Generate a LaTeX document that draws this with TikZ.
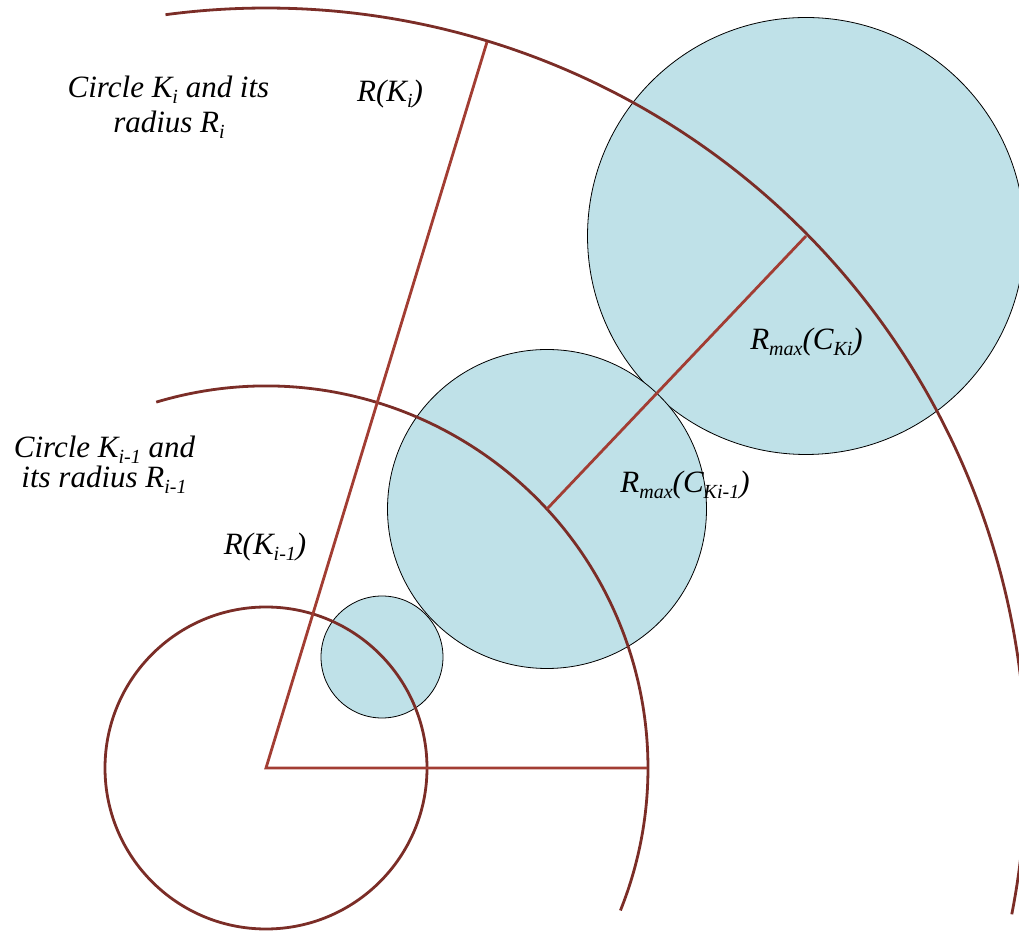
\documentclass[tikz,border=0pt]{standalone}
\usepackage{fontspec}
\setmainfont{Liberation Serif}
\usetikzlibrary{calc}
\definecolor{arcred}{HTML}{7B2D27}
\definecolor{linered}{HTML}{A23D33}
\definecolor{discblue}{HTML}{BFE1E8}
\newcommand\lsub[1]{\raisebox{-0.18em}{\fontsize{20}{20}\selectfont #1}}
\tikzset{
  disc/.style={circle, draw=black, line width=0.8pt, fill=discblue, inner sep=0pt, minimum size=#1},
  arcline/.style={draw=arcred, line width=2.8pt},
  radline/.style={draw=linered, line width=2.8pt},
  lbl/.style={font=\fontsize{31}{35}\selectfont\itshape, inner sep=0pt, anchor=base, align=center}
}
\begin{document}
\begin{tikzpicture}[x=1pt,y=1pt]
\useasboundingbox (0,0) rectangle (1019,931);
\coordinate (O) at (266,163);
% blue discs
\node[disc=437pt] (big) at (806,695) {};
\node[disc=319pt] (mid) at (547,422) {};
\node[disc=122pt] (small) at (382,274) {};
% arcs
\draw[arcline] (O) circle[radius=161];
\draw[arcline] (O) ++(106.7:382) arc[start angle=106.7, end angle=-21.9, radius=382];
\draw[arcline] (O) ++(97.6:760) arc[start angle=97.6, end angle=-11.1, radius=760];
% radii
\coordinate (T) at ($(O)+(73.07:759)$);
\coordinate (H) at (647,163);
\draw[radline, line join=miter] (T) -- (O) -- (H);
\draw[radline] (mid.center) -- (big.center);
% labels
\node[lbl] (l1) at (168.5,833) {Circle K\lsub{i} and its};
\node[lbl] (l2) at (169,798) {radius R\lsub{i}};
\node[lbl] (l3) at (390,829) {R(K\lsub{i})};
\node[lbl] (l4) at (104.5,473) {Circle K\lsub{i-1} and};
\node[lbl] (l5) at (104,443) {its radius R\lsub{i-1}};
\node[lbl] (l6) at (265,376) {R(K\lsub{i-1})};
\node[lbl] (l7) at (806.5,581) {R\lsub{max}(C\lsub{Ki})};
\node[lbl] (l8) at (685,438) {R\lsub{max}(C\lsub{Ki-1})};
\end{tikzpicture}
\end{document}
